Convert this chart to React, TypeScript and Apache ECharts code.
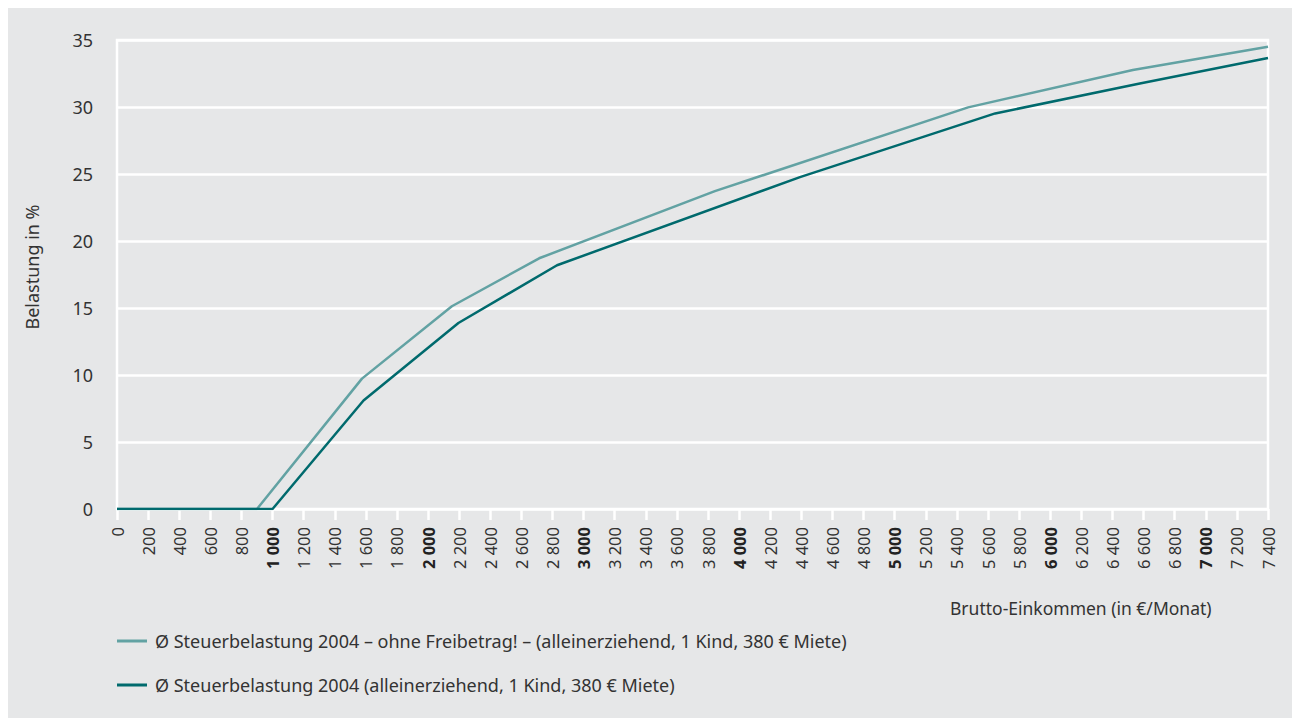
import React, { useEffect, useRef } from "react";
import * as echarts from "echarts";

const seriesNames = [
  "Ø Steuerbelastung 2004 – ohne Freibetrag! – (alleinerziehend, 1 Kind, 380 € Miete)",
  "Ø Steuerbelastung 2004 (alleinerziehend, 1 Kind, 380 € Miete)",
];
const incomeOhne = [0, 900, 1575, 2153, 2714, 3844, 5472, 6531, 7400];
const loadOhne = [0, 0, 9.73, 15.13, 18.71, 23.72, 29.97, 32.76, 34.5];
const incomeMit = [0, 1000, 1585, 2195, 2829, 4391, 5646, 6576, 7400];
const loadMit = [0, 0, 8.1, 13.88, 18.19, 24.77, 29.52, 31.76, 33.65];
const yTicks = [0, 5, 10, 15, 20, 25, 30, 35];
const xAxisTitle = "Brutto-Einkommen (in €/Monat)";
const yAxisTitle = "Belastung in %";

const FONT = "'Noto Sans', 'Open Sans', sans-serif";

function fmt(v: number): string {
  if (v < 1000) return String(v);
  const th = Math.floor(v / 1000);
  const rest = String(v % 1000).padStart(3, "0");
  return `${th} ${rest}`;
}

export default function App() {
  const ref = useRef<HTMLDivElement>(null);
  useEffect(() => {
    if (!ref.current) return;
    const chart = echarts.init(ref.current, undefined, { renderer: "svg" });
    chart.setOption({
      animation: false,
      backgroundColor: "#e6e7e8",
      grid: {
        left: 109,
        right: 24,
        top: 32,
        bottom: 209,
        show: true,
        borderColor: "#ffffff",
        borderWidth: 2.5,
        backgroundColor: "transparent",
      },
      legend: {
        orient: "vertical",
        left: 104,
        top: 617,
        itemWidth: 30,
        itemHeight: 3,
        itemGap: 22,
        icon: "rect",
        textStyle: {
          fontFamily: FONT,
          fontSize: 18,
          color: "#333333",
          lineHeight: 22,
          padding: [0, 0, 0, 3],
        },
        data: seriesNames,
      },
      xAxis: {
        type: "value",
        min: 0,
        max: 7400,
        interval: 200,
        axisLine: { show: false },
        axisTick: {
          show: true,
          length: 11,
          lineStyle: { color: "#ffffff", width: 2.5 },
        },
        splitLine: { show: false },
        axisLabel: {
          rotate: 90,
          margin: 18,
          fontFamily: FONT,
          fontSize: 16.5,
          color: "#333333",
          formatter: (v: number) =>
            v > 0 && v % 1000 === 0 ? `{b|${fmt(v)}}` : fmt(v),
          rich: {
            b: {
              fontFamily: FONT,
              fontSize: 16.5,
              fontWeight: "bold",
              color: "#222222",
            },
          },
        },
      },
      yAxis: {
        type: "value",
        min: yTicks[0],
        max: yTicks[yTicks.length - 1],
        interval: 5,
        axisLine: { show: false },
        axisTick: { show: false },
        splitLine: { show: true, lineStyle: { color: "#ffffff", width: 2.5 } },
        axisLabel: {
          margin: 24,
          fontFamily: FONT,
          fontSize: 18,
          color: "#333333",
        },
      },
      graphic: [
        {
          type: "text",
          x: 24,
          y: 259,
          rotation: Math.PI / 2,
          style: {
            text: yAxisTitle,
            font: `18px ${FONT}`,
            fill: "#333333",
            align: "center",
            verticalAlign: "middle",
          },
        },
        {
          type: "text",
          x: 942,
          y: 600,
          style: {
            text: xAxisTitle,
            font: `17.5px ${FONT}`,
            fill: "#333333",
            align: "left",
            verticalAlign: "middle",
          },
        },
      ],
      series: [
        {
          name: seriesNames[0],
          type: "line",
          symbol: "none",
          color: "#62a2a3",
          lineStyle: { width: 2.5, color: "#62a2a3" },
          data: incomeOhne.map((x, i) => [x, loadOhne[i]]),
          z: 3,
        },
        {
          name: seriesNames[1],
          type: "line",
          symbol: "none",
          color: "#006a6d",
          lineStyle: { width: 2.5, color: "#006a6d" },
          data: incomeMit.map((x, i) => [x, loadMit[i]]),
          z: 4,
        },
      ],
    });
    return () => chart.dispose();
  }, []);
  return (
    <div
      ref={ref}
      style={{ position: "absolute", left: 8, top: 8, width: 1284, height: 710 }}
    />
  );
}
